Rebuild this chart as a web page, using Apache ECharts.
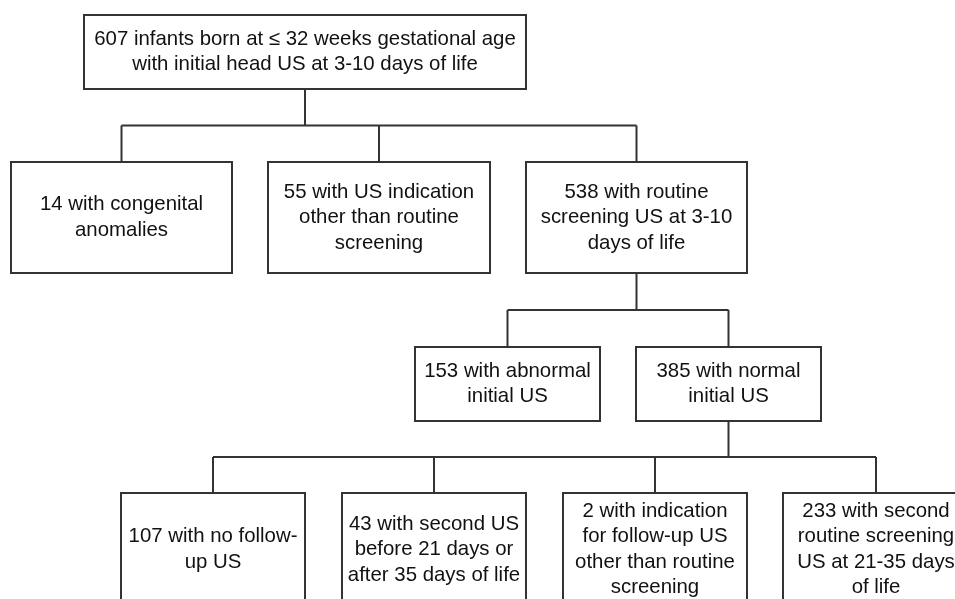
<!DOCTYPE html>
<html>
<head>
<meta charset="utf-8">
<script src="https://cdn.jsdelivr.net/npm/echarts@6/dist/echarts.min.js"></script>
<style>html,body{margin:0;padding:0;background:#fff;}#chart{width:955px;height:599px;}</style>
</head>
<body>
<div id="chart"></div>
<script>
// ---- data ----
var counts = [607, 14, 55, 538, 153, 385, 107, 43, 2, 233];
var descriptions = [
  "infants born at \u2264 32 weeks gestational age\nwith initial head US at 3-10 days of life",
  "with congenital\nanomalies",
  "with US indication\nother than routine\nscreening",
  "with routine\nscreening US at 3-10\ndays of life",
  "with abnormal\ninitial US",
  "with normal\ninitial US",
  "with no follow-\nup US",
  "with second US\nbefore 21 days or\nafter 35 days of life",
  "with indication\nfor follow-up US\nother than routine\nscreening",
  "with second\nroutine screening\nUS at 21-35 days\nof life"
];
var parentOf = [-1, 0, 0, 0, 3, 3, 5, 5, 5, 5];

// ---- layout (box geometry in canvas units: left, top, right, bottom) ----
var layout = {
  boxes: [
    [84, 15, 526, 89],
    [11, 162, 232, 273],
    [268, 162, 490, 273],
    [526, 162, 747, 273],
    [415, 347, 600, 421],
    [636, 347, 821, 421],
    [121, 493, 305, 606],
    [342, 493, 526, 606],
    [563, 493, 747, 606],
    [783, 493, 969, 606]
  ]
};

var labels = counts.map(function (c, i) { return c + ' ' + descriptions[i]; });

var boxData = layout.boxes.map(function (b, i) { return [b[0], b[1], b[2], b[3], i]; });

// connectors: one per parent with children
var connData = [];
counts.forEach(function (c, p) {
  var kids = [];
  parentOf.forEach(function (q, k) { if (q === p) kids.push(k); });
  if (kids.length) connData.push([p].concat(kids));
});

var FONT = 'Liberation Sans, Arial, Helvetica, sans-serif';
var LINE = '#333';

var chart = echarts.init(document.getElementById('chart'));
chart.setOption({
  animation: false,
  backgroundColor: '#fff',
  grid: { left: 0, right: 0, top: 0, bottom: 0 },
  xAxis: { type: 'value', min: 0, max: 955, show: false },
  yAxis: { type: 'value', min: 0, max: 599, inverse: true, show: false },
  series: [
    {
      type: 'custom',
      clip: false,
      data: connData,
      renderItem: function (params, api) {
        var row = connData[params.dataIndex];
        var pb = layout.boxes[row[0]];
        var kids = row.slice(1).map(function (k) { return layout.boxes[k]; });
        var px = (pb[0] + pb[2]) / 2;
        var childTop = kids[0][1];
        var busY = (pb[3] + childTop) / 2;
        var cxs = kids.map(function (b) { return (b[0] + b[2]) / 2; });
        var minX = Math.min.apply(null, cxs), maxX = Math.max.apply(null, cxs);
        var children = [];
        var seg = function (x1, y1, x2, y2) {
          var a = api.coord([x1, y1]), b = api.coord([x2, y2]);
          children.push({ type: 'line', shape: { x1: a[0], y1: a[1], x2: b[0], y2: b[1] },
            style: { stroke: LINE, lineWidth: 2 } });
        };
        seg(px, pb[3], px, busY);
        seg(minX, busY, maxX, busY);
        cxs.forEach(function (x) { seg(x, busY, x, childTop); });
        return { type: 'group', children: children };
      }
    },
    {
      type: 'custom',
      clip: false,
      data: boxData,
      renderItem: function (params, api) {
        var tl = api.coord([api.value(0), api.value(1)]);
        var br = api.coord([api.value(2), api.value(3)]);
        var idx = api.value(4);
        return {
          type: 'group',
          children: [
            { type: 'rect', shape: { x: tl[0], y: tl[1], width: br[0] - tl[0], height: br[1] - tl[1] },
              style: { fill: '#fff', stroke: LINE, lineWidth: 2 } },
            { type: 'text', style: { text: labels[idx], x: (tl[0] + br[0]) / 2, y: (tl[1] + br[1]) / 2,
                align: 'center', verticalAlign: 'middle', fontSize: 20.4, lineHeight: 25.5,
                fontFamily: FONT, fill: '#111' } }
          ]
        };
      }
    }
  ]
});
</script>
</body>
</html>
